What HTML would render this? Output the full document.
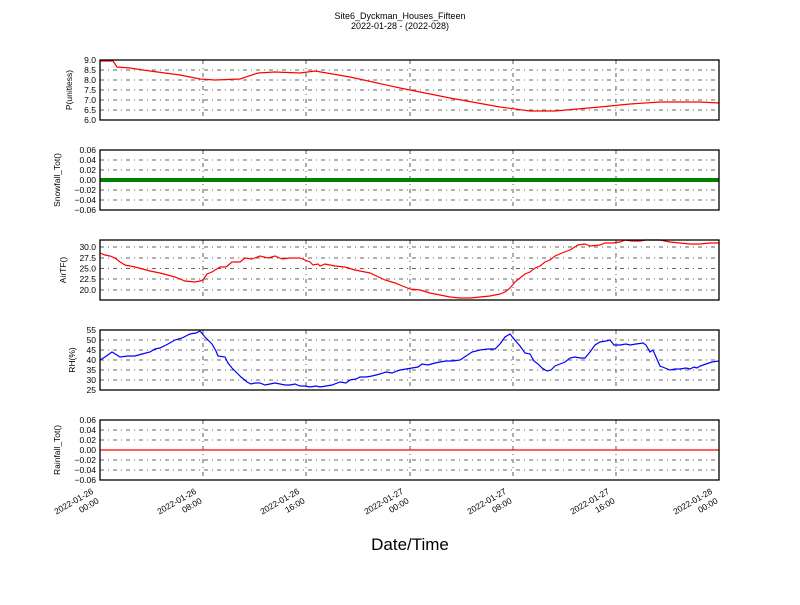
<!DOCTYPE html><html><head><style>body{margin:0;background:#fff}svg{font-family:"Liberation Sans",sans-serif}</style></head><body>
<svg width="800" height="600" xmlns="http://www.w3.org/2000/svg">
<rect width="800" height="600" fill="#fff"/>
<text x="400" y="19" font-size="9" text-anchor="middle">Site6_Dyckman_Houses_Fifteen</text>
<text x="400" y="29" font-size="9" text-anchor="middle">2022-01-28 - (2022-028)</text>
<g stroke="#333" stroke-width="0.8" stroke-dasharray="4,4,1,4" fill="none">
<path d="M100 70H719M100 80H719M100 90H719M100 100H719M100 110H719"/>
<path d="M100 160H719M100 170H719M100 180H719M100 190H719M100 200H719"/>
<path d="M100 247H719M100 258H719M100 268.5H719M100 279H719M100 290H719"/>
<path d="M100 340H719M100 350H719M100 360H719M100 370H719M100 380H719"/>
<path d="M100 430H719M100 440H719M100 450H719M100 460H719M100 470H719"/>
<path d="M203 60V120M306 60V120M410 60V120M513 60V120M616 60V120"/>
<path d="M203 150V210M306 150V210M410 150V210M513 150V210M616 150V210"/>
<path d="M203 240V300M306 240V300M410 240V300M513 240V300M616 240V300"/>
<path d="M203 330V390M306 330V390M410 330V390M513 330V390M616 330V390"/>
<path d="M203 420V480M306 420V480M410 420V480M513 420V480M616 420V480"/>
</g>
<polyline fill="none" stroke="red" stroke-width="1.2" points="100,61 113,61 117,67 130,68 150,71 180,75 200,79 215,80 240,79 258,73 275,72 300,73 315,71 350,77 400,88 450,98 500,107 530,111 555,111 600,107 630,104 660,102 700,102 719,103"/>
<line x1="100" y1="180" x2="719" y2="180" stroke="green" stroke-width="4"/>
<polyline fill="none" stroke="red" stroke-width="1.2" points="100,253 105,255 110,256 115,258 120,262 125,265 135,267 150,271 160,273 175,277 185,281 195,282 200,281 203,280 207,274 212,272 220,267 226,267 232,262 240,262 245,258 252,259 260,256 268,258 275,256 282,259 290,258 300,258 305,260 310,262 313,265 318,264 320,266 325,264 335,266 345,267 355,270 370,273 385,280 395,283 405,287 410,289 420,290 430,293 440,295 450,297 460,298 470,298 480,297 490,296 500,294 505,292 510,288 515,282 520,278 525,274 530,272 535,268 540,266 545,262 550,260 555,256 562,253 570,250 578,245 585,244 590,246 600,245 605,243 612,243 620,242 625,240 632,241 640,241 646,240 655,240 660,240 670,242 680,243 690,244 700,244 710,243 719,243"/>
<polyline fill="none" stroke="blue" stroke-width="1.2" points="100,360 105,357 112,352 120,357 128,356 135,356 142,354 150,352 155,349 160,348 168,344 175,340 182,338 190,334 196,333 200,331 205,337 212,344 216,351 218,356 225,357 228,363 232,368 237,373 241,377 247,382 251,384 255,383 260,383 265,385 270,384 275,383 280,384 285,385 290,385 295,384 300,386 305,386 310,387 316,386 320,387 326,386 332,385 340,382 346,383 350,380 356,379 360,377 366,377 372,376 380,374 386,372 392,373 397,371 400,370 406,369 412,368 418,367 422,364 428,365 435,363 440,362 446,361 452,361 460,360 466,356 472,352 480,350 488,349 495,349 500,344 505,337 510,334 514,339 520,346 525,353 530,354 534,361 538,364 542,368 547,371 551,370 555,366 560,364 565,362 570,358 575,357 580,358 585,358 590,352 595,345 600,342 606,341 610,340 614,345 620,345 626,344 630,345 636,344 643,343 646,345 650,352 653,350 656,357 660,366 665,368 670,370 675,369 680,369 686,368 690,369 694,367 697,368 700,366 706,364 712,362 719,361"/>
<line x1="100" y1="450" x2="719" y2="450" stroke="red" stroke-width="1.2"/>
<g fill="none" stroke="#000" stroke-width="1.3">
<rect x="100" y="60" width="619" height="60"/><rect x="100" y="150" width="619" height="60"/><rect x="100" y="240" width="619" height="60"/><rect x="100" y="330" width="619" height="60"/><rect x="100" y="420" width="619" height="60"/>
</g>
<g font-size="8.5" text-anchor="end">
<text x="96" y="63">9.0</text><text x="96" y="73">8.5</text><text x="96" y="83">8.0</text><text x="96" y="93">7.5</text><text x="96" y="103">7.0</text><text x="96" y="113">6.5</text><text x="96" y="123">6.0</text>
<text x="96" y="153">0.06</text><text x="96" y="163">0.04</text><text x="96" y="173">0.02</text><text x="96" y="183">0.00</text><text x="96" y="193">−0.02</text><text x="96" y="203">−0.04</text><text x="96" y="213">−0.06</text>
<text x="96" y="250">30.0</text><text x="96" y="261">27.5</text><text x="96" y="271.5">25.0</text><text x="96" y="282">22.5</text><text x="96" y="293">20.0</text>
<text x="96" y="333">55</text><text x="96" y="343">50</text><text x="96" y="353">45</text><text x="96" y="363">40</text><text x="96" y="373">35</text><text x="96" y="383">30</text><text x="96" y="393">25</text>
<text x="96" y="423">0.06</text><text x="96" y="433">0.04</text><text x="96" y="443">0.02</text><text x="96" y="453">0.00</text><text x="96" y="463">−0.02</text><text x="96" y="473">−0.04</text><text x="96" y="483">−0.06</text>
</g>
<g font-size="8.5" text-anchor="middle">
<text transform="translate(72,90) rotate(-90)">P(unitless)</text>
<text transform="translate(60,180) rotate(-90)">Snowfall_Tot()</text>
<text transform="translate(66,270) rotate(-90)">AirTF()</text>
<text transform="translate(75,360) rotate(-90)">RH(%)</text>
<text transform="translate(60,450) rotate(-90)">Rainfall_Tot()</text>
</g>
<g font-size="8.5" text-anchor="end">
<g transform="translate(94,493) rotate(-30)"><text x="0" y="0">2022-01-26</text><text x="0" y="11">00:00</text></g>
<g transform="translate(197,493) rotate(-30)"><text x="0" y="0">2022-01-26</text><text x="0" y="11">08:00</text></g>
<g transform="translate(300,493) rotate(-30)"><text x="0" y="0">2022-01-26</text><text x="0" y="11">16:00</text></g>
<g transform="translate(404,493) rotate(-30)"><text x="0" y="0">2022-01-27</text><text x="0" y="11">00:00</text></g>
<g transform="translate(507,493) rotate(-30)"><text x="0" y="0">2022-01-27</text><text x="0" y="11">08:00</text></g>
<g transform="translate(610,493) rotate(-30)"><text x="0" y="0">2022-01-27</text><text x="0" y="11">16:00</text></g>
<g transform="translate(713,493) rotate(-30)"><text x="0" y="0">2022-01-28</text><text x="0" y="11">00:00</text></g>
</g>
<text x="410" y="550" font-size="17" text-anchor="middle">Date/Time</text>
</svg></body></html>
